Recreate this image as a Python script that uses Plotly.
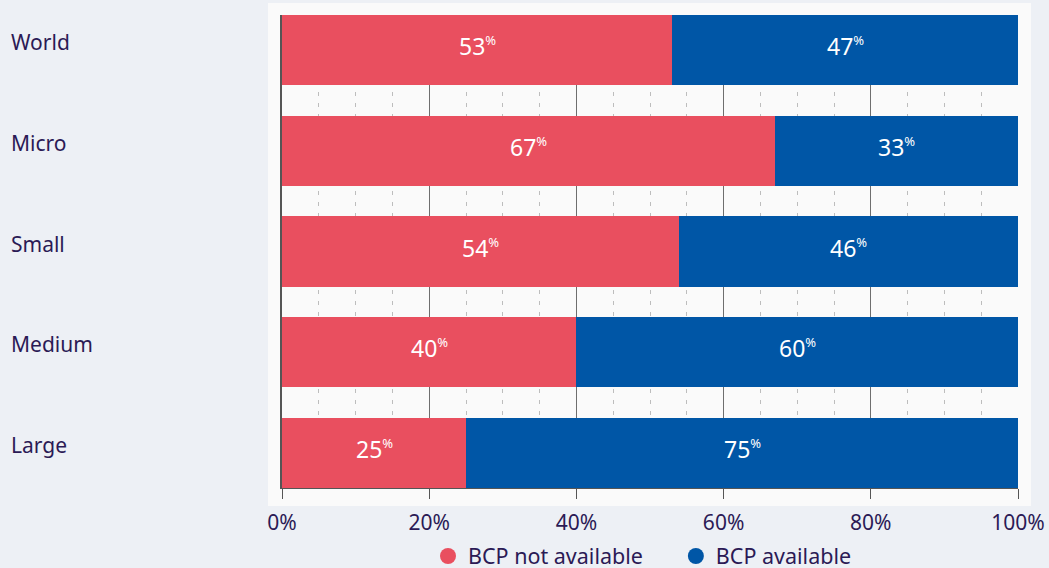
import plotly.graph_objects as go

categories = ["World", "Micro", "Small", "Medium", "Large"]
not_available = [53, 67, 54, 40, 25]
available = [47, 33, 46, 60, 75]
series_names = ["BCP not available", "BCP available"]
x_ticks = [0, 20, 40, 60, 80, 100]
x_ticklabels = ["0%", "20%", "40%", "60%", "80%", "100%"]

RED = "#E94F5F"
BLUE = "#0056A6"
TEXT = "#2B1A55"
FONT = "Noto Sans"
NBSP = "\u00a0"

W, H = 1049, 568
L, R, T, B = 282, 31, 15, 80
pw, ph = W - L - R, H - T - B

def px_x(p):
    return (p - L) / pw

def px_y(p):
    return (H - B - p) / ph

fig = go.Figure()
series = [(not_available, series_names[0], RED), (available, series_names[1], BLUE)]
for i, (vals, name, col) in enumerate(series):
    fig.add_trace(go.Bar(
        y=categories, x=vals, orientation="h", name=name,
        marker=dict(color=col, line=dict(width=0)),
        width=0.7, showlegend=False, hoverinfo="skip",
    ))
    fig.add_trace(go.Scatter(
        x=[None], y=[None], mode="markers",
        name=name + (NBSP * 5 if i == 0 else ""),
        marker=dict(color=col, size=16, symbol="circle"),
    ))

# value labels centred in each stacked segment (data coordinates)
for j, c in enumerate(categories):
    start = 0
    for vals, _, _ in series:
        v = vals[j]
        fig.add_annotation(x=start + v / 2, y=c, xref="x", yref="y",
                           text=f"{v}<sup><span style='font-size:13px'>%</span></sup>",
                           showarrow=False, xanchor="center", yanchor="middle", yshift=4,
                           font=dict(size=23, color="white", family=FONT))
        start += v

fig.add_shape(type="rect", xref="paper", yref="paper",
              x0=px_x(268), x1=px_x(1031), y0=px_y(506), y1=px_y(3),
              fillcolor="#FAFAFA", line=dict(width=0), layer="below")

for c in categories:
    fig.add_annotation(x=px_x(9), xref="paper", y=c, yref="y", text=c,
                       showarrow=False, xanchor="left", yanchor="middle", yshift=8,
                       font=dict(size=21, color=TEXT, family=FONT))

fig.update_layout(
    width=W, height=H,
    margin=dict(l=L, r=R, t=T, b=B, autoexpand=False),
    paper_bgcolor="#EDF0F5", plot_bgcolor="#FAFAFA",
    barmode="stack", bargap=0.3,
    font=dict(family=FONT, color=TEXT),
    legend=dict(orientation="h", x=px_x(428), xanchor="left", y=px_y(556), yanchor="middle",
                font=dict(size=21.5, color=TEXT, family=FONT), bgcolor="rgba(0,0,0,0)",
                traceorder="normal", itemwidth=30, tracegroupgap=0),
    xaxis=dict(range=[0, 100], tickvals=x_ticks, ticktext=x_ticklabels,
               ticks="outside", ticklen=10, tickcolor="#555", tickwidth=1,
               ticklabelstandoff=6,
               showline=True, linecolor="#555", linewidth=1, automargin=False,
               showgrid=True, gridcolor="#6E6E6E", gridwidth=1, zeroline=False,
               tickfont=dict(size=21, color=TEXT, family=FONT),
               minor=dict(dtick=5, showgrid=True, gridcolor="#BDBDBD", griddash="4px,7px", gridwidth=1),
               fixedrange=True),
    yaxis=dict(categoryorder="array", categoryarray=categories, autorange=False,
               range=[4.35, -0.35], showticklabels=False, ticks="", automargin=False,
               showline=True, linecolor="#555", linewidth=2, showgrid=False, zeroline=False),
)

fig.write_html("out.html", config={"displayModeBar": False},
               post_script="document.body.style.margin='0';")
